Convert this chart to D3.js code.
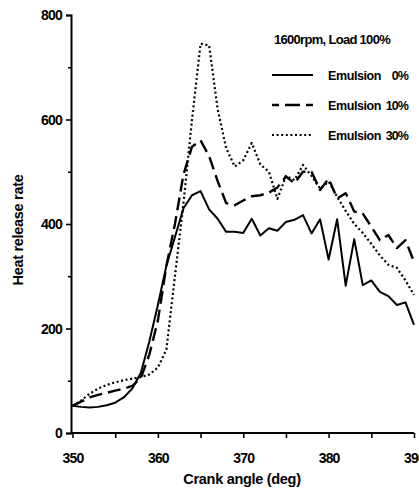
<!DOCTYPE html>
<html>
<head>
<meta charset="utf-8">
<script src="https://cdn.jsdelivr.net/npm/d3@7"></script>
<style>
  body { margin: 0; background: #fff; }
  svg { display: block; font-family: "Liberation Sans", Arial, sans-serif; font-weight: bold; }
</style>
</head>
<body>
<div id="chart"></div>
<script>
// crank angle (deg), one reading per degree
const angles = d3.range(350, 391);

// heat release rate
const emulsion0 = [52, 50, 49, 50, 53, 58, 68, 85, 115, 175,
  245, 320, 375, 430, 455, 463, 428, 410, 385, 385,
  383, 410, 378, 392, 387, 404, 408, 417, 382, 409,
  332, 409, 282, 371, 283, 292, 270, 262, 245, 250, 207];
const emulsion10 = [52, 60, 68, 73, 77, 81, 85, 90, 105, 150,
  215, 320, 400, 495, 548, 560, 530, 482, 440, 436,
  445, 453, 455, 460, 470, 491, 478, 500, 500, 465,
  487, 449, 459, 424, 420, 395, 369, 379, 354, 369, 328];
const emulsion30 = [52, 62, 75, 85, 92, 97, 101, 104, 107, 112,
  125, 160, 300, 440, 600, 745, 742, 620, 545, 510,
  522, 555, 514, 500, 448, 492, 484, 513, 492, 468,
  481, 452, 425, 400, 383, 362, 340, 322, 316, 292, 264];

const seriesNames = ["Emulsion", "Emulsion", "Emulsion"];
const seriesPct = ["0%", "10%", "30%"];
const xTicks = [350, 360, 370, 380, 390];
const yTicks = [0, 200, 400, 600, 800];

const width = 419, height = 489;
const margin = { top: 15, right: 5, bottom: 56, left: 71 };

const svg = d3.select("#chart").append("svg")
    .attr("width", width)
    .attr("height", height);

const x = d3.scaleLinear().domain([350, 390]).range([margin.left + 1.5, 414]);
const y = d3.scaleLinear().domain([0, 800]).range([height - margin.bottom, margin.top]);

// axes
const xAxis = svg.append("g")
    .attr("transform", `translate(0,${y(0)})`)
    .call(d3.axisBottom(x).tickValues(d3.range(350, 391, 5)).tickSize(5)
        .tickFormat(d => xTicks.includes(d) ? d : ""));
const yAxis = svg.append("g")
    .attr("transform", `translate(${margin.left},0)`)
    .call(d3.axisLeft(y).tickValues(d3.range(0, 801, 100)).tickSize(5)
        .tickFormat(d => yTicks.includes(d) ? d : ""));

[xAxis, yAxis].forEach(a => {
  a.select(".domain").attr("stroke-width", 2).attr("stroke", "#000");
  a.selectAll(".tick line").attr("stroke-width", 1.6);
  a.selectAll("text").attr("font-size", 14).attr("font-weight", "bold")
      .attr("font-family", "Liberation Sans, Arial, sans-serif")
      .attr("letter-spacing", -0.8).attr("fill", "#000");
});
xAxis.select(".domain").attr("d", `M${margin.left},0H414`);
xAxis.selectAll("text").attr("dy", "1.55em");
yAxis.selectAll("text").attr("x", -9).attr("dy", "0.35em");
yAxis.selectAll(".tick").filter(d => !yTicks.includes(d)).select("line").attr("x2", -3);

svg.append("text")
    .attr("transform", `translate(23,${(y(0) + y(800)) / 2 + 6}) rotate(-90)`)
    .attr("text-anchor", "middle")
    .attr("font-size", 14.5)
    .attr("letter-spacing", -0.3)
    .text("Heat release rate");

svg.append("text")
    .attr("x", 242)
    .attr("y", 484)
    .attr("text-anchor", "middle")
    .attr("font-size", 14.5)
    .attr("letter-spacing", -0.3)
    .text("Crank angle (deg)");

// curves
const styles = [
  { data: emulsion0, dash: null, w: 2 },
  { data: emulsion10, dash: "13,6", w: 2.4 },
  { data: emulsion30, dash: "2,2.6", w: 2.2 }
];
const line = d3.line().x(d => x(d[0])).y(d => y(d[1]));

styles.forEach(s => {
  svg.append("path")
      .datum(angles.map((a, i) => [a, s.data[i]]))
      .attr("fill", "none")
      .attr("stroke", "#000")
      .attr("stroke-width", s.w)
      .attr("stroke-linejoin", "round")
      .attr("stroke-dasharray", s.dash)
      .attr("d", line);
});

// legend
const legend = svg.append("g");
legend.append("text")
    .attr("x", 274).attr("y", 44)
    .attr("font-size", 13)
    .attr("letter-spacing", -0.7)
    .text("1600rpm, Load 100%");

styles.forEach((s, i) => {
  const ly = 75 + i * 30;
  legend.append("line")
      .attr("x1", 272).attr("x2", 313)
      .attr("y1", ly).attr("y2", ly)
      .attr("stroke", "#000")
      .attr("stroke-width", s.w)
      .attr("stroke-dasharray", i == 1 ? "7,6,15,6,8" : s.dash);
  legend.append("text")
      .attr("x", 328).attr("y", ly + 4.5)
      .attr("font-size", 12.5)
      .attr("letter-spacing", -0.4)
      .text(seriesNames[i]);
  legend.append("text")
      .attr("x", 408).attr("y", ly + 4.5)
      .attr("text-anchor", "end")
      .attr("font-size", 12.5)
      .attr("letter-spacing", -0.9)
      .text(seriesPct[i]);
});
</script>
</body>
</html>
